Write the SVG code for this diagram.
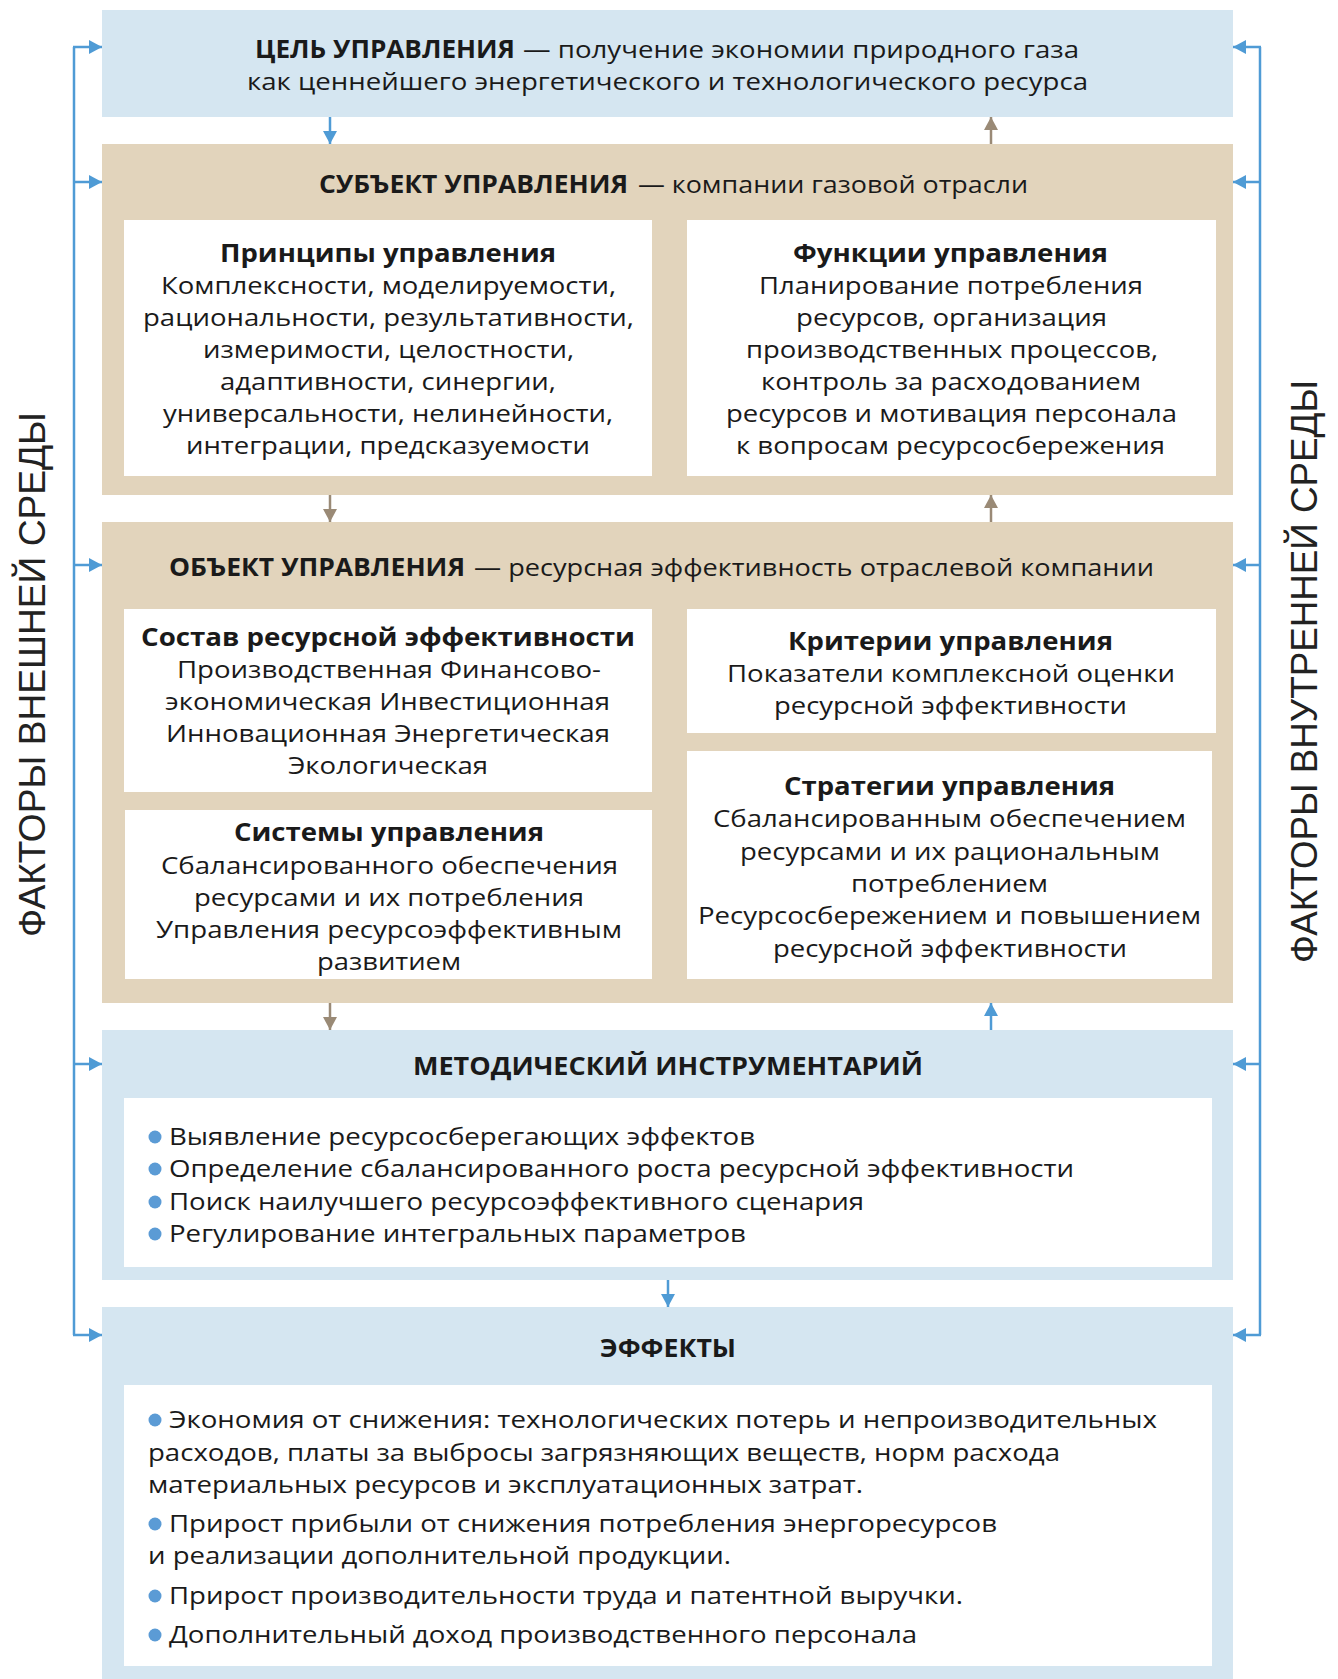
<svg xmlns="http://www.w3.org/2000/svg" width="1338" height="1679" viewBox="0 0 1338 1679">
<style>
.t{font-family:'Open Sans','Noto Sans',sans-serif;font-size:24px;fill:#1a1a1a}
.b{font-weight:700;font-size:24.5px}
.s{font-family:'Liberation Sans','Arial',sans-serif;font-size:36px;fill:#222}
.blue{fill:#d5e6f1}
.beige{fill:#e2d4bc}
.w{fill:#ffffff}
.cb{stroke:#4f9bd5;stroke-width:2.5;fill:none}
.cr{stroke:#9a8a76;stroke-width:2.5;fill:none}
.dot{fill:#5b9bd5}
</style>
<defs>
<marker id="ab" viewBox="0 0 13 14" refX="13" refY="7" markerUnits="userSpaceOnUse" markerWidth="13" markerHeight="14" orient="auto"><path d="M0,0 L13,7 L0,14 z" fill="#4f9bd5"/></marker>
<marker id="ar" viewBox="0 0 13 14" refX="13" refY="7" markerUnits="userSpaceOnUse" markerWidth="13" markerHeight="14" orient="auto"><path d="M0,0 L13,7 L0,14 z" fill="#9a8a76"/></marker>
</defs>
<rect width="1338" height="1679" fill="#ffffff"/>

<g id="goal">
<rect class="blue" x="102" y="10" width="1131" height="107"/>
<text class="t b" x="255" y="58" textLength="260" lengthAdjust="spacingAndGlyphs">ЦЕЛЬ УПРАВЛЕНИЯ</text>
<text class="t" x="523" y="58" textLength="556" lengthAdjust="spacingAndGlyphs">— получение экономии природного газа</text>
<text class="t" x="247" y="90" textLength="841" lengthAdjust="spacingAndGlyphs">как ценнейшего энергетического и технологического ресурса</text>
</g>

<g id="subject">
<rect class="beige" x="102" y="144" width="1131" height="351"/>
<text class="t b" x="319" y="193" textLength="309" lengthAdjust="spacingAndGlyphs">СУБЪЕКТ УПРАВЛЕНИЯ</text>
<text class="t" x="638" y="193" textLength="390" lengthAdjust="spacingAndGlyphs">— компании газовой отрасли</text>
</g>

<g id="principles">
<rect class="w" x="124" y="220" width="528" height="256"/>
<text class="t b" x="220" y="262" textLength="336" lengthAdjust="spacingAndGlyphs">Принципы управления</text>
<text class="t" x="161" y="294" textLength="455" lengthAdjust="spacingAndGlyphs">Комплексности, моделируемости,</text>
<text class="t" x="143" y="326" textLength="491" lengthAdjust="spacingAndGlyphs">рациональности, результативности,</text>
<text class="t" x="203" y="358" textLength="371" lengthAdjust="spacingAndGlyphs">измеримости, целостности,</text>
<text class="t" x="220" y="390" textLength="336" lengthAdjust="spacingAndGlyphs">адаптивности, синергии,</text>
<text class="t" x="163" y="422" textLength="450" lengthAdjust="spacingAndGlyphs">универсальности, нелинейности,</text>
<text class="t" x="186" y="454" textLength="404" lengthAdjust="spacingAndGlyphs">интеграции, предсказуемости</text>
</g>

<g id="functions">
<rect class="w" x="687" y="220" width="529" height="256"/>
<text class="t b" x="793" y="262" textLength="315" lengthAdjust="spacingAndGlyphs">Функции управления</text>
<text class="t" x="759" y="294" textLength="384" lengthAdjust="spacingAndGlyphs">Планирование потребления</text>
<text class="t" x="796" y="326" textLength="311" lengthAdjust="spacingAndGlyphs">ресурсов, организация</text>
<text class="t" x="746" y="358" textLength="412" lengthAdjust="spacingAndGlyphs">производственных процессов,</text>
<text class="t" x="761" y="390" textLength="380" lengthAdjust="spacingAndGlyphs">контроль за расходованием</text>
<text class="t" x="726" y="422" textLength="451" lengthAdjust="spacingAndGlyphs">ресурсов и мотивация персонала</text>
<text class="t" x="736" y="454" textLength="429" lengthAdjust="spacingAndGlyphs">к вопросам ресурсосбережения</text>
</g>

<g id="object">
<rect class="beige" x="102" y="522" width="1131" height="481"/>
<text class="t b" x="169" y="576" textLength="296" lengthAdjust="spacingAndGlyphs">ОБЪЕКТ УПРАВЛЕНИЯ</text>
<text class="t" x="474" y="576" textLength="680" lengthAdjust="spacingAndGlyphs">— ресурсная эффективность отраслевой компании</text>
</g>

<g id="composition">
<rect class="w" x="124" y="609" width="528" height="183"/>
<text class="t b" x="141" y="646" textLength="494" lengthAdjust="spacingAndGlyphs">Состав ресурсной эффективности</text>
<text class="t" x="177" y="678" textLength="424" lengthAdjust="spacingAndGlyphs">Производственная Финансово-</text>
<text class="t" x="165" y="710" textLength="445" lengthAdjust="spacingAndGlyphs">экономическая Инвестиционная</text>
<text class="t" x="166" y="742" textLength="444" lengthAdjust="spacingAndGlyphs">Инновационная Энергетическая</text>
<text class="t" x="288" y="774" textLength="200" lengthAdjust="spacingAndGlyphs">Экологическая</text>
</g>

<g id="systems">
<rect class="w" x="125" y="810" width="527" height="169"/>
<text class="t b" x="234" y="841" textLength="310" lengthAdjust="spacingAndGlyphs">Системы управления</text>
<text class="t" x="161" y="874" textLength="457" lengthAdjust="spacingAndGlyphs">Сбалансированного обеспечения</text>
<text class="t" x="194" y="906" textLength="390" lengthAdjust="spacingAndGlyphs">ресурсами и их потребления</text>
<text class="t" x="156" y="938" textLength="466" lengthAdjust="spacingAndGlyphs">Управления ресурсоэффективным</text>
<text class="t" x="317" y="970" textLength="144" lengthAdjust="spacingAndGlyphs">развитием</text>
</g>

<g id="criteria">
<rect class="w" x="687" y="609" width="529" height="124"/>
<text class="t b" x="788" y="650" textLength="325" lengthAdjust="spacingAndGlyphs">Критерии управления</text>
<text class="t" x="727" y="682" textLength="448" lengthAdjust="spacingAndGlyphs">Показатели комплексной оценки</text>
<text class="t" x="774" y="714" textLength="353" lengthAdjust="spacingAndGlyphs">ресурсной эффективности</text>
</g>

<g id="strategies">
<rect class="w" x="687" y="751" width="525" height="228"/>
<text class="t b" x="784" y="795" textLength="331" lengthAdjust="spacingAndGlyphs">Стратегии управления</text>
<text class="t" x="713" y="827" textLength="473" lengthAdjust="spacingAndGlyphs">Сбалансированным обеспечением</text>
<text class="t" x="740" y="860" textLength="420" lengthAdjust="spacingAndGlyphs">ресурсами и их рациональным</text>
<text class="t" x="851" y="892" textLength="197" lengthAdjust="spacingAndGlyphs">потреблением</text>
<text class="t" x="698" y="924" textLength="503" lengthAdjust="spacingAndGlyphs">Ресурсосбережением и повышением</text>
<text class="t" x="773" y="957" textLength="354" lengthAdjust="spacingAndGlyphs">ресурсной эффективности</text>
</g>

<g id="methods">
<rect class="blue" x="102" y="1030" width="1131" height="250"/>
<text class="t b" x="413" y="1075" textLength="510" lengthAdjust="spacingAndGlyphs">МЕТОДИЧЕСКИЙ ИНСТРУМЕНТАРИЙ</text>
<rect class="w" x="124" y="1098" width="1088" height="169"/>
<circle class="dot" cx="155" cy="1137" r="6.5"/>
<text class="t" x="169" y="1145" textLength="586" lengthAdjust="spacingAndGlyphs">Выявление ресурсосберегающих эффектов</text>
<circle class="dot" cx="155" cy="1169" r="6.5"/>
<text class="t" x="169" y="1177" textLength="905" lengthAdjust="spacingAndGlyphs">Определение сбалансированного роста ресурсной эффективности</text>
<circle class="dot" cx="155" cy="1202" r="6.5"/>
<text class="t" x="169" y="1210" textLength="695" lengthAdjust="spacingAndGlyphs">Поиск наилучшего ресурсоэффективного сценария</text>
<circle class="dot" cx="155" cy="1234" r="6.5"/>
<text class="t" x="169" y="1242" textLength="577" lengthAdjust="spacingAndGlyphs">Регулирование интегральных параметров</text>
</g>

<g id="effects">
<rect class="blue" x="102" y="1307" width="1131" height="372"/>
<text class="t b" x="600" y="1357" textLength="136" lengthAdjust="spacingAndGlyphs">ЭФФЕКТЫ</text>
<rect class="w" x="124" y="1385" width="1088" height="281"/>
<circle class="dot" cx="155" cy="1420" r="6.5"/>
<text class="t" x="169" y="1428" textLength="988" lengthAdjust="spacingAndGlyphs">Экономия от снижения: технологических потерь и непроизводительных</text>
<text class="t" x="148" y="1461" textLength="912" lengthAdjust="spacingAndGlyphs">расходов, платы за выбросы загрязняющих веществ, норм расхода</text>
<text class="t" x="148" y="1493" textLength="715" lengthAdjust="spacingAndGlyphs">материальных ресурсов и эксплуатационных затрат.</text>
<circle class="dot" cx="155" cy="1524" r="6.5"/>
<text class="t" x="169" y="1532" textLength="828" lengthAdjust="spacingAndGlyphs">Прирост прибыли от снижения потребления энергоресурсов</text>
<text class="t" x="148" y="1564" textLength="583" lengthAdjust="spacingAndGlyphs">и реализации дополнительной продукции.</text>
<circle class="dot" cx="155" cy="1596" r="6.5"/>
<text class="t" x="169" y="1604" textLength="794" lengthAdjust="spacingAndGlyphs">Прирост производительности труда и патентной выручки.</text>
<circle class="dot" cx="155" cy="1635" r="6.5"/>
<text class="t" x="169" y="1643" textLength="748" lengthAdjust="spacingAndGlyphs">Дополнительный доход производственного персонала</text>
</g>

<g id="external">
<text class="s" transform="translate(45,937) rotate(-90)" textLength="525" lengthAdjust="spacingAndGlyphs">ФАКТОРЫ ВНЕШНЕЙ СРЕДЫ</text>
</g>
<g id="internal">
<text class="s" transform="translate(1317,963) rotate(-90)" textLength="583" lengthAdjust="spacingAndGlyphs">ФАКТОРЫ ВНУТРЕННЕЙ СРЕДЫ</text>
</g>

<g id="connectors">
<path class="cb" d="M74,47 V1335"/>
<path class="cb" d="M73,47 H102" marker-end="url(#ab)"/>
<path class="cb" d="M73,182 H102" marker-end="url(#ab)"/>
<path class="cb" d="M73,565 H102" marker-end="url(#ab)"/>
<path class="cb" d="M73,1064 H102" marker-end="url(#ab)"/>
<path class="cb" d="M73,1335 H102" marker-end="url(#ab)"/>
<path class="cb" d="M1260,47 V1335"/>
<path class="cb" d="M1261,47 H1233" marker-end="url(#ab)"/>
<path class="cb" d="M1261,182 H1233" marker-end="url(#ab)"/>
<path class="cb" d="M1261,565 H1233" marker-end="url(#ab)"/>
<path class="cb" d="M1261,1064 H1233" marker-end="url(#ab)"/>
<path class="cb" d="M1261,1335 H1233" marker-end="url(#ab)"/>
<path class="cb" d="M330,117 V144" marker-end="url(#ab)"/>
<path class="cr" d="M991,144 V117" marker-end="url(#ar)"/>
<path class="cr" d="M330,495 V522" marker-end="url(#ar)"/>
<path class="cr" d="M991,522 V495" marker-end="url(#ar)"/>
<path class="cr" d="M330,1003 V1030" marker-end="url(#ar)"/>
<path class="cb" d="M991,1030 V1003" marker-end="url(#ab)"/>
<path class="cb" d="M668,1280 V1307" marker-end="url(#ab)"/>
</g>
</svg>
